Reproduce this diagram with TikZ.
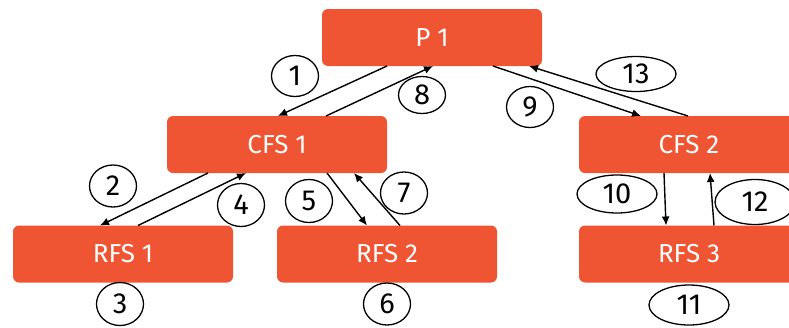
\documentclass[tikz,border=0pt]{standalone}
\usepackage{fontspec}
\setmainfont{Fira Sans}
\usetikzlibrary{shapes.geometric,arrows.meta}
\definecolor{boxorange}{HTML}{EF5533}
\tikzset{
  fbox/.style={rectangle, rounded corners=6pt, fill=boxorange, draw=none,
    minimum width=220pt, minimum height=57pt, inner sep=0pt, outer sep=0pt,
    text=white, font=\fontsize{26}{28}\selectfont},
  num/.style={ellipse, draw=black, line width=1.3pt, inner sep=0pt,
    minimum width=47pt, minimum height=41pt, font=\fontsize{29}{31}\selectfont},
  wnum/.style={num, minimum width=80pt, minimum height=38pt},
  conn/.style={draw=black, line width=1.4pt, -{Latex[length=9pt,width=8pt]}}
}
\begin{document}
\begin{tikzpicture}[x=1pt,y=-1pt]
\useasboundingbox (0,0) rectangle (789,327);
\clip (0,0) rectangle (789,327);
\node[fbox] (P1) at (432,37.5) {P 1};
\node[fbox] (CFS1) at (277,144.5) {CFS 1};
\node[fbox] (CFS2) at (689,144.5) {CFS 2};
\node[fbox] (RFS1) at (123,254) {RFS 1};
\node[fbox] (RFS2) at (387,254) {RFS 2};
\node[fbox] (RFS3) at (689,254) {RFS 3};
\node[num] (n1) at (295,76) {1};
\node[num, minimum height=37pt] (n8) at (422,95) {8};
\node[num] (n9) at (530,107) {9};
\node[wnum, minimum height=35pt] (n13) at (636,74) {13};
\node[num, minimum height=42pt] (n2) at (113,186) {2};
\node[num, minimum height=43pt] (n4) at (241,205) {4};
\node[num, minimum height=43pt] (n5) at (309,201) {5};
\node[num, minimum height=42pt] (n7) at (404,193) {7};
\node[num, minimum height=43pt] (n3) at (120,304) {3};
\node[num, minimum height=42pt] (n6) at (387,304) {6};
\node[wnum] (n10) at (617,194) {10};
\node[wnum, minimum height=45pt] (n12) at (755,202) {12};
\node[wnum, minimum height=40pt] (n11) at (689,305) {11};
\draw[conn] ([xshift=-45pt]P1.south) -- ([xshift=1pt]CFS1.north);
\draw[conn] ([xshift=49pt]CFS1.north) -- ([xshift=1pt]P1.south);
\draw[conn] ([xshift=61pt]P1.south) -- ([xshift=-48pt]CFS2.north);
\draw[conn] ([xshift=-1pt]CFS2.north) -- ([xshift=97pt]P1.south);
\draw[conn] ([xshift=-69pt]CFS1.south) -- ([xshift=-23pt]RFS1.north);
\draw[conn] ([xshift=15pt]RFS1.north) -- ([xshift=-31pt]CFS1.south);
\draw[conn] ([xshift=50pt]CFS1.south) -- ([xshift=-20pt]RFS2.north);
\draw[conn] ([xshift=13pt]RFS2.north) -- ([xshift=77pt]CFS1.south);
\draw[conn] ([xshift=-25pt]CFS2.south) -- ([xshift=-23pt]RFS3.north);
\draw[conn] ([xshift=25pt]RFS3.north) -- ([xshift=21pt]CFS2.south);
\end{tikzpicture}
\end{document}
